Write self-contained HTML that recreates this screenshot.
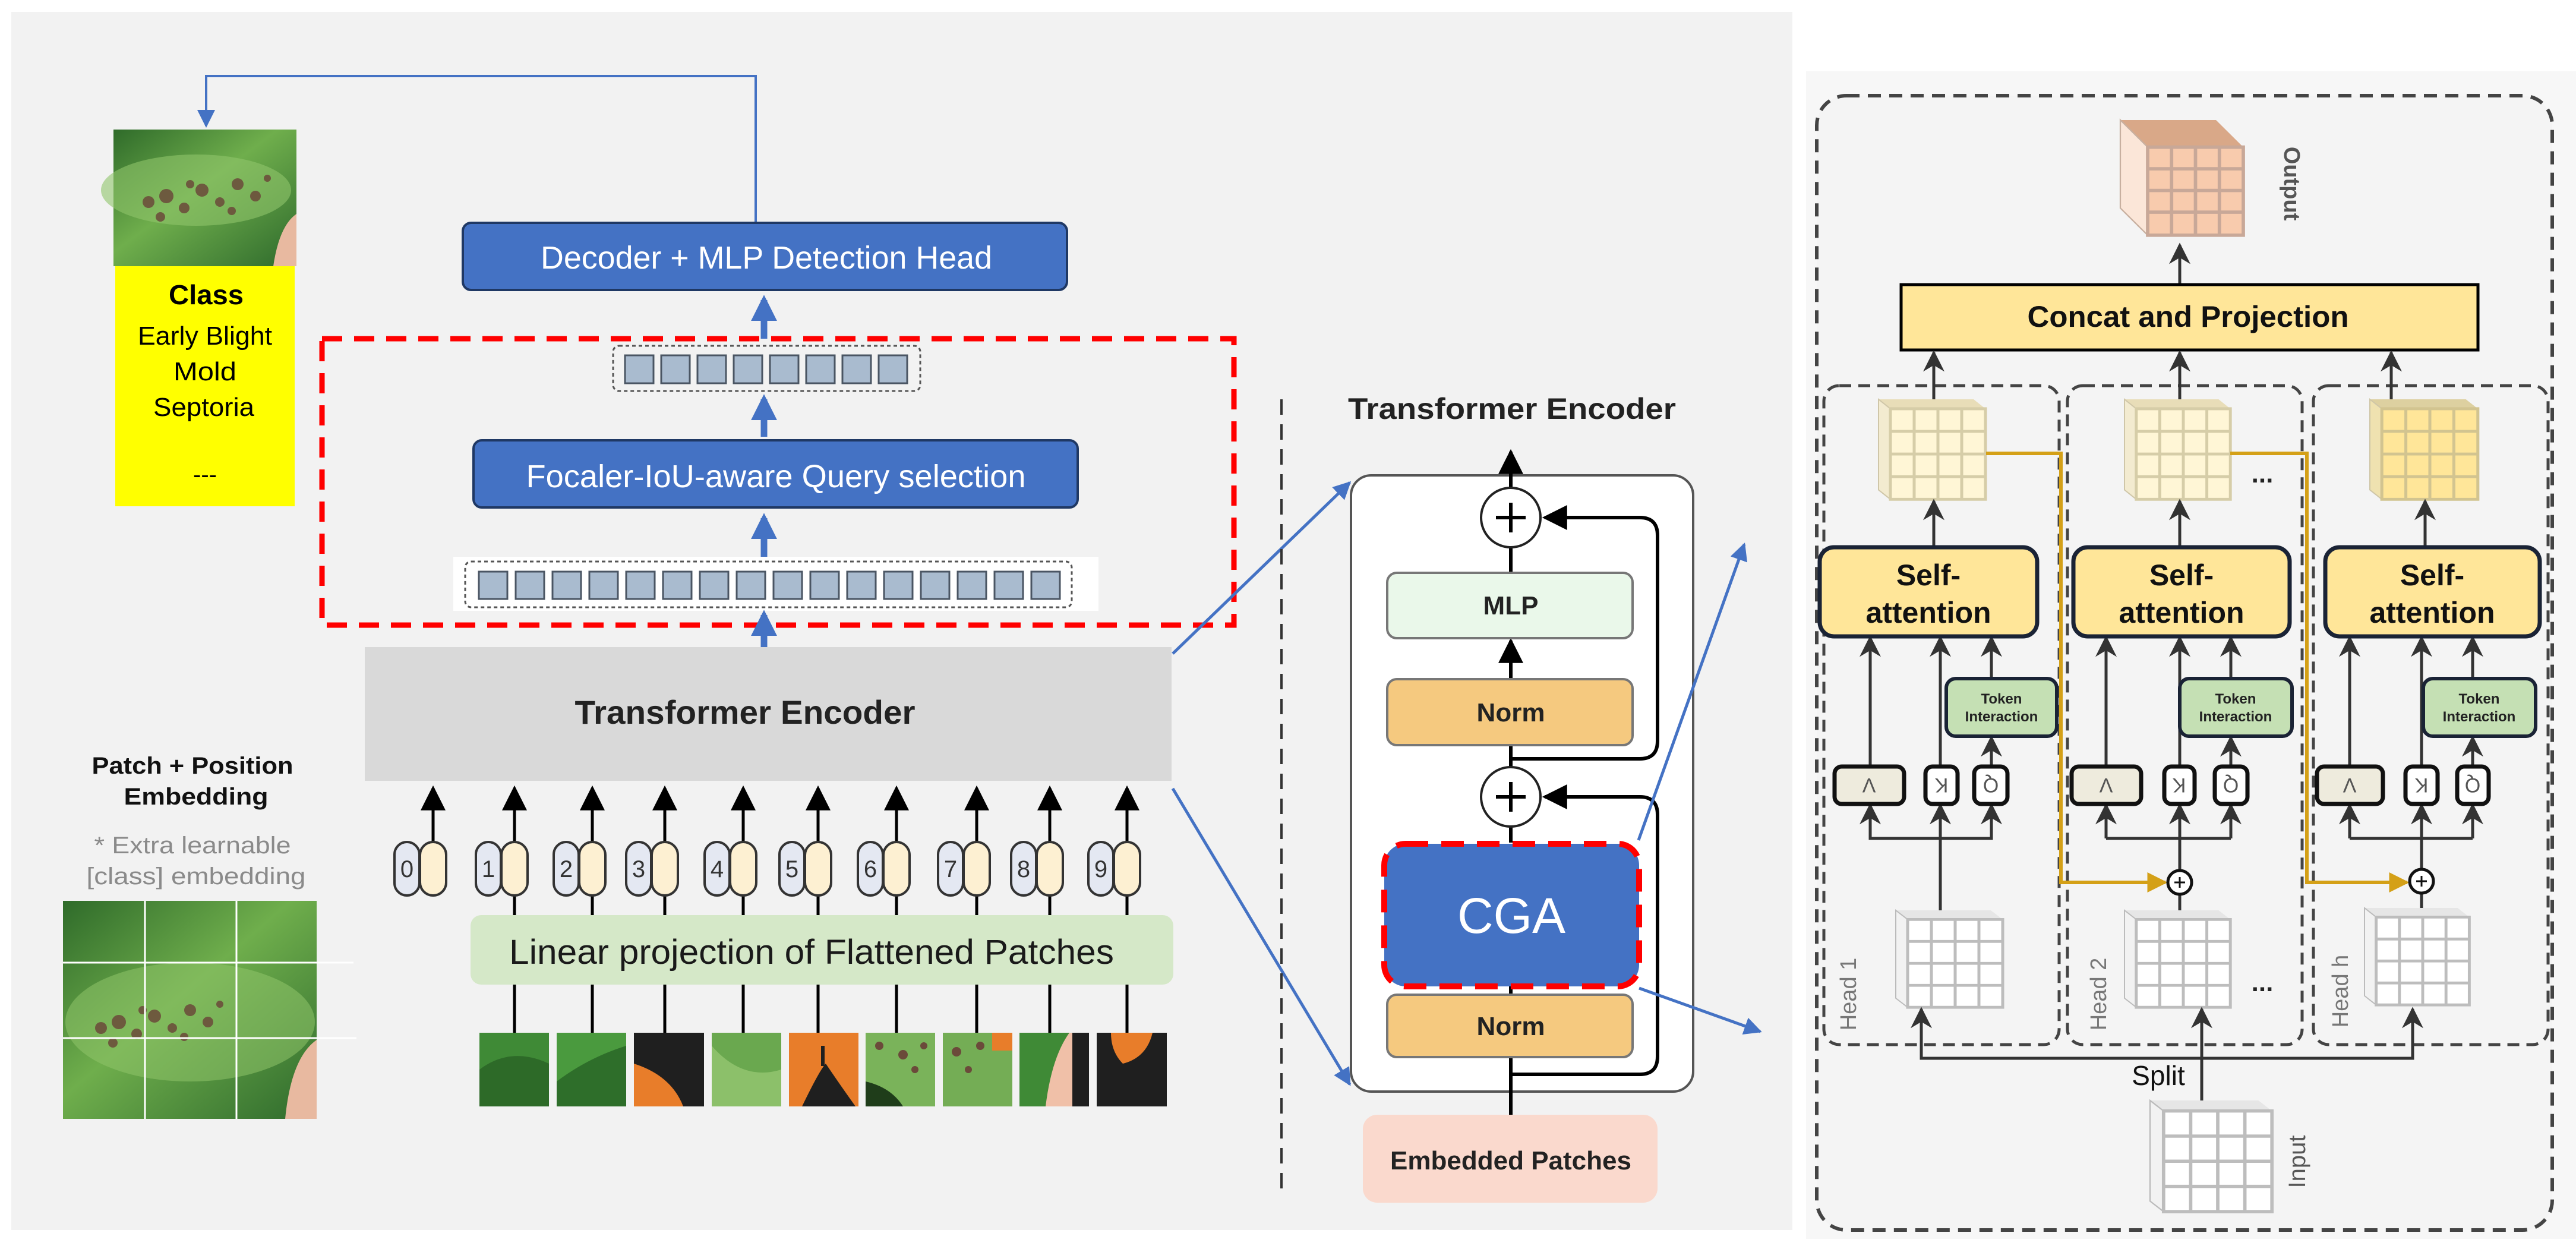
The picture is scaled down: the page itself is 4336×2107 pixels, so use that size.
<!DOCTYPE html>
<html><head><meta charset="utf-8"><style>
html,body{margin:0;padding:0;background:#fff}
svg{display:block}
text{font-family:"Liberation Sans",sans-serif}
</style></head><body>
<svg width="4336" height="2107" viewBox="0 0 4336 2107" xmlns="http://www.w3.org/2000/svg">
<defs>
<marker id="ab" viewBox="0 0 10 10" refX="9" refY="5" markerWidth="10" markerHeight="10" markerUnits="userSpaceOnUse" orient="auto"><path d="M0,0L10,5L0,10z" fill="#000"/></marker>
<marker id="abk" viewBox="0 0 10 10" refX="9" refY="5" markerWidth="42" markerHeight="42" markerUnits="userSpaceOnUse" orient="auto"><path d="M0,0L10,5L0,10z" fill="#000"/></marker>
<marker id="ag" viewBox="0 0 10 10" refX="9" refY="5" markerWidth="36" markerHeight="36" markerUnits="userSpaceOnUse" orient="auto"><path d="M0,0L10,5L0,10L3,5z" fill="#333"/></marker>
<marker id="ay" viewBox="0 0 10 10" refX="9" refY="5" markerWidth="34" markerHeight="34" markerUnits="userSpaceOnUse" orient="auto"><path d="M0,0L10,5L0,10z" fill="#D4A017"/></marker>
<marker id="abl" viewBox="0 0 10 10" refX="9" refY="5" markerWidth="30" markerHeight="30" markerUnits="userSpaceOnUse" orient="auto"><path d="M0,0L10,5L0,10z" fill="#4472C4"/></marker>
<marker id="abb" viewBox="0 0 10 10" refX="8" refY="5" markerWidth="44" markerHeight="44" markerUnits="userSpaceOnUse" orient="auto"><path d="M0,0L10,5L0,10z" fill="#4472C4"/></marker>
<g id="grid"><path d="M20,16H180V170H20Z M60,16V170 M100,16V170 M140,16V170 M20,54.5H180 M20,93H180 M20,131.5H180" fill="none" stroke-width="5"/></g>
<g id="cubeY"><polygon points="0,0 160,0 180,16 20,16" fill="#E8DDB8"/><polygon points="0,0 20,16 20,170 0,154" fill="#F3EBD0" stroke="#CFC6A8" stroke-width="2"/><rect x="20" y="16" width="160" height="154" fill="#FFF6D6"/><use href="#grid" stroke="#D6CDA8"/></g>
<g id="cubeY2"><polygon points="0,0 160,0 180,16 20,16" fill="#DDD0A0"/><polygon points="0,0 20,16 20,170 0,154" fill="#EFE2B0" stroke="#CFC6A8" stroke-width="2"/><rect x="20" y="16" width="160" height="154" fill="#FFE699"/><use href="#grid" stroke="#D2C490"/></g>
<g id="cubeW"><polygon points="0,0 160,0 180,16 20,16" fill="#E6E6E6"/><polygon points="0,0 20,16 20,170 0,154" fill="#F2F2F2" stroke="#BBB" stroke-width="2"/><rect x="20" y="16" width="160" height="154" fill="#fff"/><use href="#grid" stroke="#BDBDBD"/></g>
<g id="cubeO"><polygon points="0,0 140,0 180,40 40,40" fill="#D9A888"/><polygon points="0,0 40,40 40,170 0,130" fill="#FBE6D8" stroke="#C8B0A0" stroke-width="2"/><rect x="40" y="40" width="140" height="130" fill="#F8CBAD"/><path d="M40,40H180V170H40Z M75,40V170 M110,40V170 M145,40V170 M40,72H180 M40,104H180 M40,136H180" fill="none" stroke="#C8A898" stroke-width="5"/></g>
<linearGradient id="leafg" x1="0" y1="0" x2="1" y2="1"><stop offset="0" stop-color="#2f6b2a"/><stop offset="0.45" stop-color="#6fae4c"/><stop offset="1" stop-color="#2e6a2c"/></linearGradient>
<g id="spots" fill="#6b4a3a" opacity="0.85"><circle cx="60" cy="150" r="10"/><circle cx="90" cy="140" r="12"/><circle cx="120" cy="160" r="9"/><circle cx="150" cy="130" r="11"/><circle cx="180" cy="150" r="8"/><circle cx="210" cy="120" r="10"/><circle cx="240" cy="140" r="9"/><circle cx="80" cy="175" r="8"/><circle cx="130" cy="120" r="7"/><circle cx="200" cy="165" r="7"/><circle cx="260" cy="110" r="6"/></g>
</defs>

<!-- backgrounds -->
<rect x="19" y="20" width="2998" height="2050" fill="#F2F2F2"/>
<rect x="3040" y="120" width="1296" height="1965" fill="#F7F7F7"/>
<rect x="3058" y="161" width="1238" height="1909" rx="50" fill="#F4F4F4" stroke="#444" stroke-width="6" stroke-dasharray="22,14"/>

<!-- top feedback connector -->
<polyline points="1272,375 1272,128 347,128 347,212" fill="none" stroke="#4472C4" stroke-width="4" marker-end="url(#abl)"/>

<!-- leaf top -->
<rect x="191" y="218" width="308" height="230" fill="url(#leafg)"/>
<ellipse cx="330" cy="320" rx="160" ry="60" fill="#8fc46a" opacity="0.6"/>
<g transform="translate(190,190)"><use href="#spots"/></g>
<path d="M460,448 Q470,380 499,360 L499,448Z" fill="#e8b9a0"/>
<!-- yellow class -->
<rect x="194" y="448" width="302" height="404" fill="#FFFF00"/>
<text x="347" y="512" font-size="46" font-weight="bold" text-anchor="middle" textLength="126" lengthAdjust="spacingAndGlyphs">Class</text>
<text x="345" y="580" font-size="44" text-anchor="middle" textLength="226" lengthAdjust="spacingAndGlyphs">Early Blight</text>
<text x="345" y="640" font-size="44" text-anchor="middle" textLength="106" lengthAdjust="spacingAndGlyphs">Mold</text>
<text x="343" y="700" font-size="44" text-anchor="middle" textLength="170" lengthAdjust="spacingAndGlyphs">Septoria</text>
<text x="345" y="812" font-size="40" text-anchor="middle">---</text>

<!-- Decoder -->
<rect x="779" y="375" width="1017" height="113" rx="14" fill="#4472C4" stroke="#1F3864" stroke-width="4"/>
<text x="1290" y="452" font-size="54" fill="#fff" text-anchor="middle" textLength="760" lengthAdjust="spacingAndGlyphs">Decoder + MLP Detection Head</text>
<line x1="1286" y1="570" x2="1286" y2="505" stroke="#4472C4" stroke-width="11" marker-end="url(#abb)"/>

<!-- red dashed -->
<rect x="542" y="570" width="1535" height="482" fill="none" stroke="#FF0000" stroke-width="9" stroke-dasharray="34,20"/>

<!-- small token row -->
<rect x="1032" y="582" width="517" height="76" rx="10" fill="#F2F2F2" stroke="#555" stroke-width="3" stroke-dasharray="6,5"/>
<g fill="#A9BBCF" stroke="#4a5563" stroke-width="3">
<rect x="1052" y="598" width="48" height="47"/><rect x="1113" y="598" width="48" height="47"/><rect x="1174" y="598" width="48" height="47"/><rect x="1235" y="598" width="48" height="47"/><rect x="1296" y="598" width="48" height="47"/><rect x="1357" y="598" width="48" height="47"/><rect x="1418" y="598" width="48" height="47"/><rect x="1479" y="598" width="48" height="47"/>
</g>
<line x1="1286" y1="735" x2="1286" y2="672" stroke="#4472C4" stroke-width="11" marker-end="url(#abb)"/>

<!-- Focaler -->
<rect x="797" y="741" width="1017" height="113" rx="14" fill="#4472C4" stroke="#1F3864" stroke-width="4"/>
<text x="1306" y="820" font-size="54" fill="#fff" text-anchor="middle" textLength="841" lengthAdjust="spacingAndGlyphs">Focaler-IoU-aware Query selection</text>
<line x1="1286" y1="937" x2="1286" y2="872" stroke="#4472C4" stroke-width="11" marker-end="url(#abb)"/>

<!-- big token row -->
<rect x="763" y="937" width="1086" height="91" fill="#fff"/>
<rect x="783" y="945" width="1021" height="77" rx="10" fill="#fff" stroke="#555" stroke-width="3" stroke-dasharray="6,5"/>
<g fill="#A9BBCF" stroke="#4a5563" stroke-width="3">
<rect x="806" y="962" width="48" height="46"/><rect x="868" y="962" width="48" height="46"/><rect x="930" y="962" width="48" height="46"/><rect x="992" y="962" width="48" height="46"/><rect x="1054" y="962" width="48" height="46"/><rect x="1116" y="962" width="48" height="46"/><rect x="1178" y="962" width="48" height="46"/><rect x="1240" y="962" width="48" height="46"/><rect x="1302" y="962" width="48" height="46"/><rect x="1364" y="962" width="48" height="46"/><rect x="1426" y="962" width="48" height="46"/><rect x="1488" y="962" width="48" height="46"/><rect x="1550" y="962" width="48" height="46"/><rect x="1612" y="962" width="48" height="46"/><rect x="1674" y="962" width="48" height="46"/><rect x="1736" y="962" width="48" height="46"/>
</g>
<line x1="1286" y1="1098" x2="1286" y2="1035" stroke="#4472C4" stroke-width="11" marker-end="url(#abb)"/>

<!-- Transformer Encoder (left) -->
<rect x="614" y="1089" width="1358" height="225" fill="#D9D9D9"/>
<text x="1254" y="1218" font-size="56" font-weight="bold" fill="#222" text-anchor="middle" textLength="573" lengthAdjust="spacingAndGlyphs">Transformer Encoder</text>

<!-- patch + position text -->
<text x="324" y="1302" font-size="40" font-weight="bold" fill="#111" text-anchor="middle" textLength="339" lengthAdjust="spacingAndGlyphs">Patch + Position</text>
<text x="330" y="1354" font-size="40" font-weight="bold" fill="#111" text-anchor="middle" textLength="243" lengthAdjust="spacingAndGlyphs">Embedding</text>
<text x="324" y="1436" font-size="40" fill="#8a8a8a" text-anchor="middle" textLength="331" lengthAdjust="spacingAndGlyphs">* Extra learnable</text>
<text x="330" y="1488" font-size="40" fill="#8a8a8a" text-anchor="middle" textLength="369" lengthAdjust="spacingAndGlyphs">[class] embedding</text>

<!-- leaf grid image -->
<rect x="106" y="1516" width="427" height="367" fill="url(#leafg)"/>
<ellipse cx="320" cy="1720" rx="210" ry="100" fill="#8fc46a" opacity="0.55"/>
<g transform="translate(110,1580)"><use href="#spots"/></g>
<path d="M480,1883 Q490,1780 533,1750 L533,1883Z" fill="#e8b9a0"/>
<g stroke="#fff" stroke-width="3"><line x1="244" y1="1516" x2="244" y2="1883"/><line x1="398" y1="1516" x2="398" y2="1883"/><line x1="106" y1="1620" x2="595" y2="1620"/><line x1="106" y1="1747" x2="600" y2="1747"/></g>

<!-- linear projection -->
<rect x="792" y="1540" width="1183" height="117" rx="18" fill="#D5E8C8"/>
<text x="1366" y="1622" font-size="58" fill="#1a1a1a" text-anchor="middle" textLength="1018" lengthAdjust="spacingAndGlyphs">Linear projection of Flattened Patches</text>

<!-- token pills and arrows -->
<g>
<g stroke="#000" stroke-width="5" fill="none">
<line x1="729" y1="1417" x2="729" y2="1326" marker-end="url(#abk)"/>
<line x1="866" y1="1417" x2="866" y2="1326" marker-end="url(#abk)"/><line x1="866" y1="1507" x2="866" y2="1540"/><line x1="866" y1="1657" x2="866" y2="1738"/>
<line x1="997" y1="1417" x2="997" y2="1326" marker-end="url(#abk)"/><line x1="997" y1="1507" x2="997" y2="1540"/><line x1="997" y1="1657" x2="997" y2="1738"/>
<line x1="1119" y1="1417" x2="1119" y2="1326" marker-end="url(#abk)"/><line x1="1119" y1="1507" x2="1119" y2="1540"/><line x1="1119" y1="1657" x2="1119" y2="1738"/>
<line x1="1251" y1="1417" x2="1251" y2="1326" marker-end="url(#abk)"/><line x1="1251" y1="1507" x2="1251" y2="1540"/><line x1="1251" y1="1657" x2="1251" y2="1738"/>
<line x1="1377" y1="1417" x2="1377" y2="1326" marker-end="url(#abk)"/><line x1="1377" y1="1507" x2="1377" y2="1540"/><line x1="1377" y1="1657" x2="1377" y2="1738"/>
<line x1="1509" y1="1417" x2="1509" y2="1326" marker-end="url(#abk)"/><line x1="1509" y1="1507" x2="1509" y2="1540"/><line x1="1509" y1="1657" x2="1509" y2="1738"/>
<line x1="1644" y1="1417" x2="1644" y2="1326" marker-end="url(#abk)"/><line x1="1644" y1="1507" x2="1644" y2="1540"/><line x1="1644" y1="1657" x2="1644" y2="1738"/>
<line x1="1767" y1="1417" x2="1767" y2="1326" marker-end="url(#abk)"/><line x1="1767" y1="1507" x2="1767" y2="1540"/><line x1="1767" y1="1657" x2="1767" y2="1738"/>
<line x1="1897" y1="1417" x2="1897" y2="1326" marker-end="url(#abk)"/><line x1="1897" y1="1507" x2="1897" y2="1540"/><line x1="1897" y1="1657" x2="1897" y2="1738"/>
</g>
<g stroke="#333" stroke-width="4">
<rect x="664" y="1417" width="42" height="90" rx="21" fill="#E4E8F2"/><rect x="707" y="1417" width="44" height="90" rx="22" fill="#FDF0D2"/>
<rect x="801" y="1417" width="42" height="90" rx="21" fill="#E4E8F2"/><rect x="844" y="1417" width="44" height="90" rx="22" fill="#FDF0D2"/>
<rect x="932" y="1417" width="42" height="90" rx="21" fill="#E4E8F2"/><rect x="975" y="1417" width="44" height="90" rx="22" fill="#FDF0D2"/>
<rect x="1054" y="1417" width="42" height="90" rx="21" fill="#E4E8F2"/><rect x="1097" y="1417" width="44" height="90" rx="22" fill="#FDF0D2"/>
<rect x="1186" y="1417" width="42" height="90" rx="21" fill="#E4E8F2"/><rect x="1229" y="1417" width="44" height="90" rx="22" fill="#FDF0D2"/>
<rect x="1312" y="1417" width="42" height="90" rx="21" fill="#E4E8F2"/><rect x="1355" y="1417" width="44" height="90" rx="22" fill="#FDF0D2"/>
<rect x="1444" y="1417" width="42" height="90" rx="21" fill="#E4E8F2"/><rect x="1487" y="1417" width="44" height="90" rx="22" fill="#FDF0D2"/>
<rect x="1579" y="1417" width="42" height="90" rx="21" fill="#E4E8F2"/><rect x="1622" y="1417" width="44" height="90" rx="22" fill="#FDF0D2"/>
<rect x="1702" y="1417" width="42" height="90" rx="21" fill="#E4E8F2"/><rect x="1745" y="1417" width="44" height="90" rx="22" fill="#FDF0D2"/>
<rect x="1832" y="1417" width="42" height="90" rx="21" fill="#E4E8F2"/><rect x="1875" y="1417" width="44" height="90" rx="22" fill="#FDF0D2"/>
</g>
<g font-size="40" fill="#333" text-anchor="middle">
<text x="685" y="1476">0</text><text x="822" y="1476">1</text><text x="953" y="1476">2</text><text x="1075" y="1476">3</text><text x="1207" y="1476">4</text><text x="1333" y="1476">5</text><text x="1465" y="1476">6</text><text x="1600" y="1476">7</text><text x="1723" y="1476">8</text><text x="1853" y="1476">9</text>
</g>
</g>

<!-- patches -->
<rect x="807" y="1738" width="117" height="124" fill="#3f8a36"/><path d="M807,1800 Q860,1760 924,1790 L924,1862 L807,1862Z" fill="#2d6a28"/>
<rect x="937" y="1738" width="117" height="124" fill="#4a9a3e"/><path d="M937,1820 Q990,1780 1054,1760 L1054,1862 L937,1862Z" fill="#2e6e2a"/>
<rect x="1067" y="1738" width="118" height="124" fill="#1f1f1f"/><path d="M1067,1790 Q1130,1810 1150,1862 L1067,1862Z" fill="#E87D2A"/>
<rect x="1198" y="1738" width="117" height="124" fill="#6aa84f"/><path d="M1198,1760 Q1250,1820 1315,1800 L1315,1862 L1198,1862Z" fill="#8cc06a"/>
<rect x="1328" y="1738" width="117" height="124" fill="#E87D2A"/><path d="M1350,1862 Q1380,1800 1390,1790 Q1410,1820 1440,1862Z" fill="#1f1f1f"/><rect x="1382" y="1760" width="6" height="34" fill="#1f1f1f"/>
<rect x="1457" y="1738" width="117" height="124" fill="#7ab35a"/><g fill="#6b4a3a"><circle cx="1480" cy="1760" r="7"/><circle cx="1520" cy="1775" r="8"/><circle cx="1555" cy="1760" r="6"/><circle cx="1540" cy="1800" r="6"/></g><path d="M1457,1820 Q1500,1830 1520,1862 L1457,1862Z" fill="#1f3d1a"/>
<rect x="1587" y="1738" width="117" height="124" fill="#74ad55"/><g fill="#6b4a3a"><circle cx="1610" cy="1770" r="8"/><circle cx="1650" cy="1760" r="7"/><circle cx="1630" cy="1800" r="6"/></g><rect x="1670" y="1738" width="34" height="30" fill="#E87D2A"/>
<rect x="1716" y="1738" width="117" height="124" fill="#3f8a36"/><path d="M1760,1862 Q1770,1780 1800,1738 L1833,1738 L1833,1862Z" fill="#f0c0a8"/><rect x="1805" y="1738" width="28" height="124" fill="#1f1f1f"/>
<rect x="1846" y="1738" width="118" height="124" fill="#1f1f1f"/><path d="M1870,1738 L1940,1738 Q1930,1780 1890,1790 Q1870,1770 1870,1738Z" fill="#E87D2A"/>

<!-- blue lines to right TE -->
<line x1="1974" y1="1100" x2="2272" y2="812" stroke="#4472C4" stroke-width="5" marker-end="url(#abl)"/>
<line x1="1974" y1="1327" x2="2272" y2="1825" stroke="#4472C4" stroke-width="5" marker-end="url(#abl)"/>

<!-- divider dashed -->
<line x1="2157" y1="672" x2="2157" y2="2016" stroke="#333" stroke-width="4" stroke-dasharray="26,16"/>

<!-- right Transformer Encoder -->
<text x="2545" y="705" font-size="50" font-weight="bold" fill="#222" text-anchor="middle" textLength="552" lengthAdjust="spacingAndGlyphs">Transformer Encoder</text>
<rect x="2274" y="800" width="576" height="1037" rx="34" fill="#fff" stroke="#555" stroke-width="4"/>
<g stroke="#000" stroke-width="6" fill="none">
<line x1="2543" y1="821" x2="2543" y2="760" marker-end="url(#abk)"/>
<line x1="2543" y1="964" x2="2543" y2="921"/>
<line x1="2543" y1="1143" x2="2543" y2="1078" marker-end="url(#abk)"/>
<line x1="2543" y1="1254" x2="2543" y2="1291"/>
<line x1="2543" y1="1391" x2="2543" y2="1418"/>
<line x1="2543" y1="1660" x2="2543" y2="1674"/>
<line x1="2543" y1="1876" x2="2543" y2="1779"/>
<path d="M2543,1277 H2760 Q2790,1277 2790,1247 V901 Q2790,871 2760,871 H2600" marker-end="url(#abk)"/>
<path d="M2543,1808 H2760 Q2790,1808 2790,1778 V1371 Q2790,1341 2760,1341 H2600" marker-end="url(#abk)"/>
</g>
<circle cx="2543" cy="871" r="50" fill="#fff" stroke="#222" stroke-width="4"/>
<path d="M2518,871H2568M2543,846V896" stroke="#000" stroke-width="6"/>
<circle cx="2543" cy="1341" r="50" fill="#fff" stroke="#222" stroke-width="4"/>
<path d="M2518,1341H2568M2543,1316V1366" stroke="#000" stroke-width="6"/>
<rect x="2335" y="964" width="413" height="110" rx="16" fill="#EAF8EA" stroke="#777" stroke-width="4"/>
<text x="2543" y="1034" font-size="44" font-weight="bold" fill="#222" text-anchor="middle">MLP</text>
<rect x="2335" y="1143" width="413" height="111" rx="16" fill="#F5C97F" stroke="#777" stroke-width="4"/>
<text x="2543" y="1214" font-size="44" font-weight="bold" fill="#222" text-anchor="middle">Norm</text>
<rect x="2330" y="1420" width="429" height="240" rx="36" fill="#4472C4" stroke="#FF0000" stroke-width="10" stroke-dasharray="38,22"/>
<text x="2544" y="1570" font-size="84" fill="#fff" text-anchor="middle">CGA</text>
<rect x="2335" y="1674" width="413" height="105" rx="16" fill="#F5C97F" stroke="#777" stroke-width="4"/>
<text x="2543" y="1742" font-size="44" font-weight="bold" fill="#222" text-anchor="middle">Norm</text>
<rect x="2294" y="1876" width="496" height="148" rx="24" fill="#FAD9CD"/>
<text x="2543" y="1968" font-size="44" font-weight="bold" fill="#222" text-anchor="middle" textLength="406" lengthAdjust="spacingAndGlyphs">Embedded Patches</text>
<line x1="2758" y1="1414" x2="2936" y2="916" stroke="#4472C4" stroke-width="5" marker-end="url(#abl)"/>
<line x1="2759" y1="1663" x2="2963" y2="1736" stroke="#4472C4" stroke-width="5" marker-end="url(#abl)"/>

<!-- RIGHT PANEL -->
<use href="#cubeO" transform="translate(3569,202) scale(1.15,1.14)"/>
<text transform="translate(3845,309) rotate(90)" font-size="38" font-weight="bold" fill="#555" text-anchor="middle" font-family="Liberation Serif">Output</text>
<line x1="3669" y1="477" x2="3669" y2="412" stroke="#333" stroke-width="5" marker-end="url(#ag)"/>
<rect x="3200" y="479" width="971" height="110" fill="#FFE699" stroke="#000" stroke-width="5"/>
<text x="3683" y="550" font-size="50" font-weight="bold" fill="#111" text-anchor="middle" textLength="541" lengthAdjust="spacingAndGlyphs">Concat and Projection</text>

<!-- head boxes -->
<g fill="none" stroke="#444" stroke-width="5" stroke-dasharray="20,12">
<rect x="3070" y="649" width="396" height="1109" rx="26"/>
<rect x="3480" y="649" width="395" height="1109" rx="26"/>
<rect x="3894" y="649" width="395" height="1109" rx="26"/>
</g>

<g stroke="#333" stroke-width="5" marker-end="url(#ag)">
<line x1="3255" y1="680" x2="3255" y2="593"/>
<line x1="3669" y1="680" x2="3669" y2="593"/>
<line x1="4025" y1="680" x2="4025" y2="593"/>
</g>

<use href="#cubeY" transform="translate(3162,672) scale(1.0,0.99)"/>
<use href="#cubeY" transform="translate(3576,672) scale(0.99,0.99)"/>
<use href="#cubeY2" transform="translate(3989,672) scale(1.01,0.99)"/>
<text x="3808" y="812" font-size="44" font-weight="bold" fill="#222" text-anchor="middle">...</text>

<g stroke="#333" stroke-width="5" marker-end="url(#ag)">
<line x1="3255" y1="921" x2="3255" y2="843"/>
<line x1="3669" y1="921" x2="3669" y2="843"/>
<line x1="4082" y1="921" x2="4082" y2="843"/>
</g>

<g fill="none" stroke="#D4A017" stroke-width="6">
<polyline points="3343,763 3469,763 3469,1485 3645,1485" marker-end="url(#ay)"/>
<polyline points="3754,763 3883,763 3883,1485 4052,1485" marker-end="url(#ay)"/>
</g>

<g stroke="#333" stroke-width="5" fill="none">
<line x1="3148" y1="1290" x2="3148" y2="1073" marker-end="url(#ag)"/>
<line x1="3266" y1="1290" x2="3266" y2="1073" marker-end="url(#ag)"/>
<line x1="3352" y1="1142" x2="3352" y2="1073" marker-end="url(#ag)"/>
<line x1="3352" y1="1290" x2="3352" y2="1241" marker-end="url(#ag)"/>
<polyline points="3148,1355 3148,1411 3352,1411 3352,1355"/>
<line x1="3148" y1="1411" x2="3148" y2="1355" marker-end="url(#ag)"/><line x1="3352" y1="1411" x2="3352" y2="1355" marker-end="url(#ag)"/>
<line x1="3266" y1="1532" x2="3266" y2="1355" marker-end="url(#ag)"/>
<line x1="3545" y1="1290" x2="3545" y2="1073" marker-end="url(#ag)"/>
<line x1="3669" y1="1290" x2="3669" y2="1073" marker-end="url(#ag)"/>
<line x1="3755" y1="1142" x2="3755" y2="1073" marker-end="url(#ag)"/>
<line x1="3755" y1="1290" x2="3755" y2="1241" marker-end="url(#ag)"/>
<polyline points="3545,1411 3755,1411"/>
<line x1="3545" y1="1411" x2="3545" y2="1355" marker-end="url(#ag)"/><line x1="3755" y1="1411" x2="3755" y2="1355" marker-end="url(#ag)"/>
<line x1="3669" y1="1532" x2="3669" y2="1355" marker-end="url(#ag)"/>
<line x1="3955" y1="1290" x2="3955" y2="1073" marker-end="url(#ag)"/>
<line x1="4076" y1="1290" x2="4076" y2="1073" marker-end="url(#ag)"/>
<line x1="4162" y1="1142" x2="4162" y2="1073" marker-end="url(#ag)"/>
<line x1="4162" y1="1290" x2="4162" y2="1241" marker-end="url(#ag)"/>
<polyline points="3955,1411 4162,1411"/>
<line x1="3955" y1="1411" x2="3955" y2="1355" marker-end="url(#ag)"/><line x1="4162" y1="1411" x2="4162" y2="1355" marker-end="url(#ag)"/>
<line x1="4076" y1="1532" x2="4076" y2="1355" marker-end="url(#ag)"/>
</g>

<g fill="#FFE699" stroke="#1a2335" stroke-width="7">
<rect x="3063" y="921" width="366" height="150" rx="24"/>
<rect x="3490" y="921" width="364" height="150" rx="24"/>
<rect x="3914" y="921" width="361" height="150" rx="24"/>
</g>
<g font-size="50" font-weight="bold" fill="#111" text-anchor="middle">
<text x="3246" y="985">Self-</text><text x="3246" y="1048">attention</text>
<text x="3672" y="985">Self-</text><text x="3672" y="1048">attention</text>
<text x="4094" y="985">Self-</text><text x="4094" y="1048">attention</text>
</g>

<g fill="#C5E0B4" stroke="#1a2335" stroke-width="6">
<rect x="3276" y="1142" width="186" height="97" rx="16"/>
<rect x="3669" y="1142" width="189" height="97" rx="16"/>
<rect x="4079" y="1142" width="189" height="97" rx="16"/>
</g>
<g font-size="24" font-weight="bold" fill="#222" text-anchor="middle">
<text x="3369" y="1184">Token</text><text x="3369" y="1214">Interaction</text>
<text x="3763" y="1184">Token</text><text x="3763" y="1214">Interaction</text>
<text x="4173" y="1184">Token</text><text x="4173" y="1214">Interaction</text>
</g>

<g stroke="#111" stroke-width="7">
<rect x="3088" y="1290" width="117" height="63" rx="12" fill="#EEEBDD"/><rect x="3241" y="1290" width="54" height="63" rx="12" fill="#fff"/><rect x="3323" y="1290" width="56" height="63" rx="12" fill="#fff"/>
<rect x="3487" y="1290" width="117" height="63" rx="12" fill="#EEEBDD"/><rect x="3643" y="1290" width="51" height="63" rx="12" fill="#fff"/><rect x="3728" y="1290" width="55" height="63" rx="12" fill="#fff"/>
<rect x="3900" y="1290" width="111" height="63" rx="12" fill="#EEEBDD"/><rect x="4049" y="1290" width="54" height="63" rx="12" fill="#fff"/><rect x="4136" y="1290" width="53" height="63" rx="12" fill="#fff"/>
</g>
<g font-size="34" fill="#555" text-anchor="middle" font-family="Liberation Serif">
<text transform="translate(3146,1310) rotate(180)">V</text><text transform="translate(3268,1310) rotate(180)">K</text><text transform="translate(3351,1310) rotate(180)">Q</text>
<text transform="translate(3545,1310) rotate(180)">V</text><text transform="translate(3668,1310) rotate(180)">K</text><text transform="translate(3755,1310) rotate(180)">Q</text>
<text transform="translate(3955,1310) rotate(180)">V</text><text transform="translate(4076,1310) rotate(180)">K</text><text transform="translate(4162,1310) rotate(180)">Q</text>
</g>

<g fill="#fff" stroke="#111" stroke-width="5">
<circle cx="3669" cy="1485" r="20"/><circle cx="4076" cy="1483" r="20"/>
</g>
<path d="M3660,1485H3678M3669,1476V1494M4067,1483H4085M4076,1474V1492" stroke="#111" stroke-width="3"/>

<use href="#cubeW" transform="translate(3191,1532) scale(1.0,0.96)"/>
<use href="#cubeW" transform="translate(3576,1532) scale(0.99,0.96)"/>
<use href="#cubeW" transform="translate(3980,1528) scale(0.98,0.96)"/>
<text x="3808" y="1668" font-size="44" font-weight="bold" fill="#222" text-anchor="middle">...</text>
<g font-size="38" fill="#777" text-anchor="middle" font-family="Liberation Serif">
<text transform="translate(3124,1673) rotate(-90)">Head 1</text>
<text transform="translate(3545,1673) rotate(-90)">Head 2</text>
<text transform="translate(3952,1668) rotate(-90)">Head h</text>
</g>

<g stroke="#333" stroke-width="5" fill="none">
<polyline points="3234,1700 3234,1781 4061,1781 4061,1700"/>
<line x1="3234" y1="1781" x2="3234" y2="1698" marker-end="url(#ag)"/>
<line x1="4061" y1="1781" x2="4061" y2="1698" marker-end="url(#ag)"/>
<line x1="3706" y1="1852" x2="3706" y2="1698" marker-end="url(#ag)"/>
</g>
<rect x="3580" y="1785" width="110" height="50" fill="#F4F4F4"/>
<text x="3633" y="1826" font-size="46" fill="#111" text-anchor="middle">Split</text>
<use href="#cubeW" transform="translate(3619,1852) scale(1.14,1.1)"/>
<text transform="translate(3880,1955) rotate(-90)" font-size="40" fill="#555" text-anchor="middle" font-family="Liberation Serif">Input</text>
</svg>
</body></html>
